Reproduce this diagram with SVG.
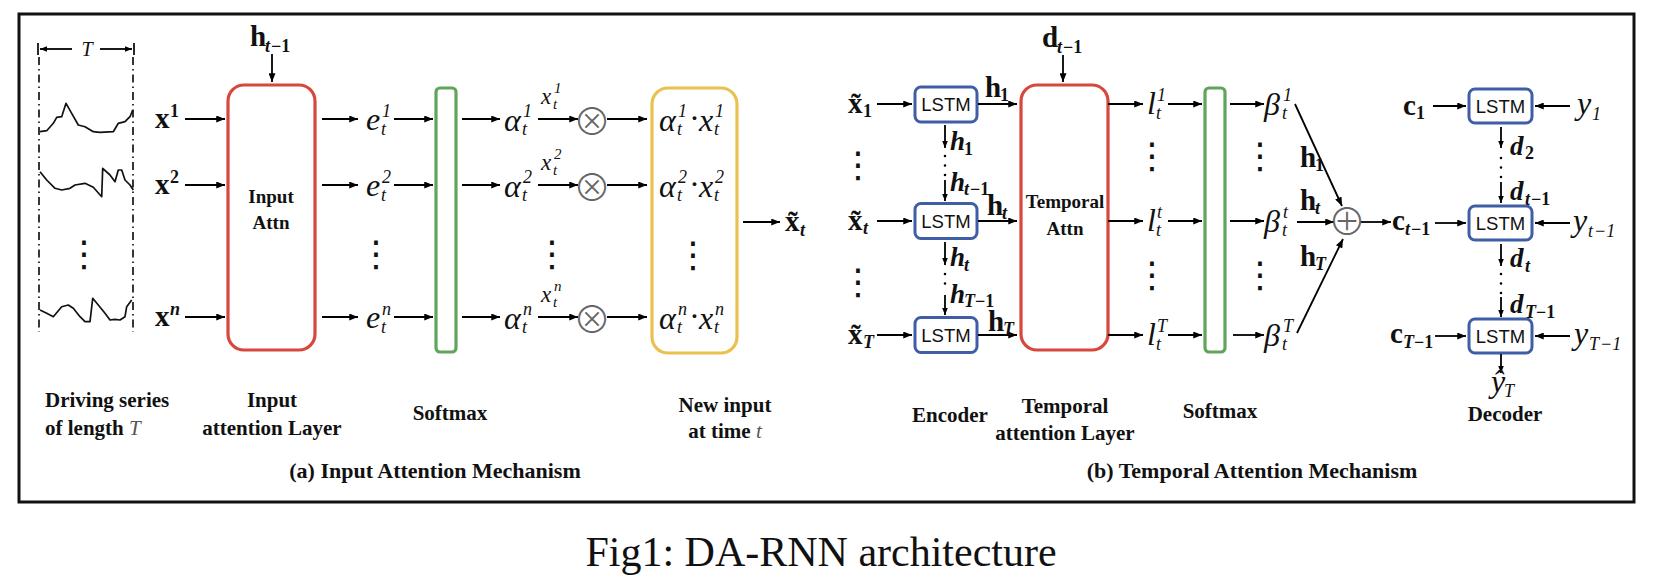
<svg xmlns="http://www.w3.org/2000/svg" width="1654" height="588" viewBox="0 0 1654 588">
<defs>
<marker id="ah" viewBox="0 0 10 8" markerUnits="userSpaceOnUse" markerWidth="9" markerHeight="7" refX="10" refY="4" orient="auto"><path d="M0,0 L10,4 L0,8 z" fill="#000"/></marker>
<marker id="ahs" viewBox="0 0 10 8" markerUnits="userSpaceOnUse" markerWidth="7" markerHeight="6" refX="10" refY="4" orient="auto"><path d="M0,0 L10,4 L0,8 z" fill="#000"/></marker>
</defs>
<style>
.ln{stroke:#000;stroke-width:1.8;fill:none}
.ar{marker-end:url(#ah)}
.as{marker-end:url(#ahs)}
.dt{stroke:#000;stroke-width:2.6;stroke-linecap:round;stroke-dasharray:0 9.5;fill:none}
.wave{stroke:#111;stroke-width:1.7;fill:none;stroke-linejoin:round}
.dd{stroke:#222;stroke-width:1.8;stroke-dasharray:8 4 1.5 4;fill:none}
.red{fill:none;stroke:#d8473b;stroke-width:3.2}
.grn{fill:none;stroke:#5fa65b;stroke-width:3.2}
.yel{fill:none;stroke:#e9c14f;stroke-width:3.2}
.blu{fill:#fff;stroke:#3f5ea6;stroke-width:3}
text{fill:#111}
.lbl{font-family:"Liberation Serif",serif;font-weight:bold;font-size:21px;text-anchor:middle}
.lbs{font-family:"Liberation Serif",serif;font-weight:bold;font-size:21px;text-anchor:start}
.in{font-family:"Liberation Serif",serif;font-weight:bold;font-size:19px;text-anchor:middle}
.cap{font-family:"Liberation Serif",serif;font-weight:bold;font-size:22px;text-anchor:middle}
.mi{font-family:"Liberation Serif",serif;font-style:italic;font-size:32px}
.ms{font-family:"Liberation Serif",serif;font-style:italic;font-size:23px}
.sc{font-family:"Liberation Serif",serif;font-style:italic;font-size:18px}
.sc2{font-family:"Liberation Serif",serif;font-style:italic;font-size:15px}
.bv{font-family:"Liberation Serif",serif;font-weight:bold;font-size:29px}
.bvi{font-family:"Liberation Serif",serif;font-weight:bold;font-style:italic;font-size:27px}
.bs{font-family:"Liberation Serif",serif;font-weight:bold;font-size:18px}
.bsi{font-family:"Liberation Serif",serif;font-weight:bold;font-style:italic;font-size:18px}
.op{font-family:"Noto Sans CJK JP","DejaVu Sans",sans-serif;font-weight:300;font-size:38px;fill:#666;text-anchor:middle}
.vd{font-family:"DejaVu Sans",sans-serif;font-size:36px;text-anchor:middle}
.lstm{font-family:"Liberation Sans",Arial,sans-serif;font-size:18.5px;text-anchor:middle}
.ttl{font-family:"Liberation Serif","Times New Roman",serif;font-size:42px;text-anchor:middle}
</style>
<rect width="1654" height="588" fill="#fff"/>
<g id="frame"><rect x="19" y="14" width="1615" height="488" fill="none" stroke="#111" stroke-width="3"/></g>

<g id="driving-series">
<line class="dd" x1="39" y1="57" x2="39" y2="332"/>
<line class="dd" x1="133" y1="57" x2="133" y2="332"/>
<line x1="38" y1="43" x2="38" y2="55" stroke="#111" stroke-width="1.8"/>
<line x1="134" y1="43" x2="134" y2="55" stroke="#111" stroke-width="1.8"/>
<polyline class="wave" points="40,131.7 46.7,130.7 53.3,123.3 56.7,117.3 61.7,116.7 66,103.3 71.7,113.3 78.3,125 85,126.7 93.3,131.7 100,132.3 113.3,131.7 118.3,123.3 125,121.7 130,116.7 132.7,110"/>
<polyline class="wave" points="40,171.7 46.7,180 55,188.3 61.7,190 70,188.3 75,185 85,183.3 93.3,187.3 101.7,196.7 102.7,168.3 110,175 115,181.7 118.3,170 121.7,170 125,180 130,185 133.3,190"/>
<polyline class="wave" points="40,310 46.7,313.3 53.3,316.7 61.7,306.7 68.3,305 73.3,308.3 80,316.7 85,321.7 90,321.7 92.7,298.3 98.3,305 105,313.3 110,320 115,319.3 120,320 125,316.7 126.7,306.7 131.7,300"/>
<text class="vd" x="84" y="266">⋮</text>
<text x="87" y="56" font-family="Liberation Serif,serif" font-style="italic" font-size="20" text-anchor="middle" fill="#555">T</text>
</g>

<g id="input-attn">
<rect class="red" x="228" y="85" width="87" height="265" rx="16"/>
<text class="in" x="271" y="203">Input</text>
<text class="in" x="271" y="229">Attn</text>
</g>
<g id="softmax-a"><rect class="grn" x="436" y="88" width="20" height="264" rx="4"/></g>
<g id="new-input"><rect class="yel" x="652" y="88" width="85" height="265" rx="16"/></g>

<g id="temporal-attn">
<rect class="red" x="1021" y="85" width="87" height="265" rx="16"/>
<text class="in" x="1065" y="208">Temporal</text>
<text class="in" x="1065" y="235">Attn</text>
</g>
<g id="softmax-b"><rect class="grn" x="1205" y="88" width="20" height="264" rx="4"/></g>

<g id="enc-lstm-1"><rect class="blu" x="915" y="87" width="62" height="35" rx="6"/><text class="lstm" x="946" y="111">LSTM</text></g>
<g id="enc-lstm-t"><rect class="blu" x="915" y="203.5" width="62" height="35" rx="6"/><text class="lstm" x="946" y="228">LSTM</text></g>
<g id="enc-lstm-T"><rect class="blu" x="915" y="317.5" width="62" height="35" rx="6"/><text class="lstm" x="946" y="342">LSTM</text></g>
<g id="dec-lstm-1"><rect class="blu" x="1469" y="89" width="63" height="34" rx="6"/><text class="lstm" x="1500.5" y="112.5">LSTM</text></g>
<g id="dec-lstm-t"><rect class="blu" x="1469" y="206" width="63" height="34" rx="6"/><text class="lstm" x="1500.5" y="229.5">LSTM</text></g>
<g id="dec-lstm-T"><rect class="blu" x="1469" y="319" width="63" height="34" rx="6"/><text class="lstm" x="1500.5" y="342.5">LSTM</text></g>

<g id="connectors">
<line class="ln as" x1="72" y1="49" x2="40" y2="49"/>
<line class="ln as" x1="100" y1="49" x2="132" y2="49"/>
<line class="ln ar" x1="272" y1="54" x2="272" y2="82"/>
<line class="ln ar" x1="185" y1="119" x2="225" y2="119"/>
<line class="ln ar" x1="185" y1="185" x2="225" y2="185"/>
<line class="ln ar" x1="185" y1="317" x2="225" y2="317"/>
<line class="ln ar" x1="322" y1="119" x2="358" y2="119"/>
<line class="ln ar" x1="322" y1="185" x2="358" y2="185"/>
<line class="ln ar" x1="322" y1="317" x2="358" y2="317"/>
<line class="ln ar" x1="394" y1="119" x2="433" y2="119"/>
<line class="ln ar" x1="394" y1="185" x2="433" y2="185"/>
<line class="ln ar" x1="394" y1="317" x2="433" y2="317"/>
<line class="ln ar" x1="462" y1="119" x2="500" y2="119"/>
<line class="ln ar" x1="462" y1="185" x2="500" y2="185"/>
<line class="ln ar" x1="462" y1="317" x2="500" y2="317"/>
<line class="ln ar" x1="538" y1="119" x2="578" y2="119"/>
<line class="ln ar" x1="538" y1="185" x2="578" y2="185"/>
<line class="ln ar" x1="538" y1="317" x2="578" y2="317"/>
<line class="ln ar" x1="607" y1="119" x2="647" y2="119"/>
<line class="ln ar" x1="607" y1="185" x2="647" y2="185"/>
<line class="ln ar" x1="607" y1="317" x2="647" y2="317"/>
<line class="ln ar" x1="743" y1="222" x2="780" y2="222"/>
<line class="ln ar" x1="877" y1="104" x2="912" y2="104"/>
<line class="ln ar" x1="877" y1="221" x2="912" y2="221"/>
<line class="ln ar" x1="877" y1="335" x2="912" y2="335"/>
<line class="ln ar" x1="978" y1="104" x2="1017" y2="104"/>
<line class="ln ar" x1="978" y1="221" x2="1017" y2="221"/>
<line class="ln ar" x1="978" y1="335" x2="1017" y2="335"/>
<line class="ln as" x1="945" y1="125" x2="945" y2="148"/>
<line class="dt" x1="945" y1="156" x2="945" y2="176"/>
<line class="ln as" x1="945" y1="180" x2="945" y2="201"/>
<line class="ln as" x1="945" y1="242" x2="945" y2="265"/>
<line class="dt" x1="945" y1="274" x2="945" y2="293"/>
<line class="ln as" x1="945" y1="295" x2="945" y2="315"/>
<line class="ln ar" x1="1063" y1="55" x2="1063" y2="82"/>
<line class="ln ar" x1="1108" y1="104" x2="1143" y2="104"/>
<line class="ln ar" x1="1108" y1="221" x2="1143" y2="221"/>
<line class="ln ar" x1="1108" y1="335" x2="1143" y2="335"/>
<line class="ln ar" x1="1168" y1="104" x2="1202" y2="104"/>
<line class="ln ar" x1="1168" y1="221" x2="1202" y2="221"/>
<line class="ln ar" x1="1168" y1="335" x2="1202" y2="335"/>
<line class="ln ar" x1="1230" y1="104" x2="1264" y2="104"/>
<line class="ln ar" x1="1230" y1="221" x2="1264" y2="221"/>
<line class="ln ar" x1="1233" y1="335" x2="1264" y2="335"/>
<line class="ln ar" x1="1295" y1="104" x2="1342" y2="206"/>
<line class="ln ar" x1="1297" y1="222" x2="1334" y2="222"/>
<line class="ln ar" x1="1297" y1="333" x2="1343" y2="239"/>
<line class="ln ar" x1="1360" y1="222" x2="1391" y2="222"/>
<line class="ln ar" x1="1433" y1="106" x2="1466" y2="106"/>
<line class="ln ar" x1="1435" y1="223" x2="1466" y2="223"/>
<line class="ln ar" x1="1435" y1="336" x2="1466" y2="336"/>
<line class="ln ar" x1="1570" y1="106" x2="1535" y2="106"/>
<line class="ln ar" x1="1570" y1="223" x2="1535" y2="223"/>
<line class="ln ar" x1="1570" y1="336" x2="1535" y2="336"/>
<line class="ln as" x1="1501" y1="127" x2="1501" y2="148"/>
<line class="dt" x1="1501" y1="158" x2="1501" y2="178"/>
<line class="ln as" x1="1501" y1="182" x2="1501" y2="203"/>
<line class="ln as" x1="1501" y1="244" x2="1501" y2="266"/>
<line class="dt" x1="1501" y1="274" x2="1501" y2="294"/>
<line class="ln as" x1="1501" y1="297" x2="1501" y2="317"/>
<line class="ln as" x1="1501" y1="354" x2="1501" y2="373"/>
</g>

<g id="labels-a">
<text class="bv" x="250" y="46">h</text><text class="bsi" x="265" y="52">t</text><text class="bs" x="271" y="52">−1</text>
<text class="bv" x="155" y="128">x</text><text class="bs" x="170" y="117">1</text>
<text class="bv" x="155" y="194">x</text><text class="bs" x="170" y="183">2</text>
<text class="bv" x="155" y="326">x</text><text class="bsi" x="170" y="315">n</text>

<text class="mi" x="366" y="130">e</text><text class="sc" x="381" y="135">t</text><text class="sc" x="382" y="117">1</text>
<text class="mi" x="366" y="196">e</text><text class="sc" x="381" y="201">t</text><text class="sc" x="382" y="183">2</text>
<text class="mi" x="366" y="328">e</text><text class="sc" x="381" y="333">t</text><text class="sc" x="382" y="315">n</text>
<text class="vd" x="376" y="266">⋮</text>

<text class="mi" x="504" y="131">α</text><text class="sc" x="522" y="135">t</text><text class="sc" x="523" y="117">1</text>
<text class="mi" x="504" y="197">α</text><text class="sc" x="522" y="201">t</text><text class="sc" x="523" y="183">2</text>
<text class="mi" x="504" y="329">α</text><text class="sc" x="522" y="333">t</text><text class="sc" x="523" y="315">n</text>
<text class="vd" x="552" y="266">⋮</text>

<text class="ms" x="541" y="104">x</text><text class="sc2" x="553" y="109">t</text><text class="sc2" x="554" y="93">1</text>
<text class="ms" x="541" y="170">x</text><text class="sc2" x="553" y="175">t</text><text class="sc2" x="554" y="159">2</text>
<text class="ms" x="541" y="302">x</text><text class="sc2" x="553" y="307">t</text><text class="sc2" x="554" y="291">n</text>

<text class="op" x="592" y="135">⊗</text>
<text class="op" x="592" y="201">⊗</text>
<text class="op" x="592" y="333">⊗</text>

<text class="mi" x="659" y="131">α</text><text class="sc" x="677" y="135">t</text><text class="sc" x="678" y="117">1</text><text class="mi" x="690" y="129" font-style="normal">·</text><text class="mi" x="699" y="131">x</text><text class="sc" x="714" y="135">t</text><text class="sc" x="715" y="117">1</text>
<text class="mi" x="659" y="197">α</text><text class="sc" x="677" y="201">t</text><text class="sc" x="678" y="183">2</text><text class="mi" x="690" y="195" font-style="normal">·</text><text class="mi" x="699" y="197">x</text><text class="sc" x="714" y="201">t</text><text class="sc" x="715" y="183">2</text>
<text class="mi" x="659" y="329">α</text><text class="sc" x="677" y="333">t</text><text class="sc" x="678" y="315">n</text><text class="mi" x="690" y="327" font-style="normal">·</text><text class="mi" x="699" y="329">x</text><text class="sc" x="714" y="333">t</text><text class="sc" x="715" y="315">n</text>
<text class="vd" x="693" y="267">⋮</text>

<text class="bv" x="785" y="231">x̃</text><text class="bsi" x="800" y="236">t</text>

<text class="lbs" x="45" y="407">Driving series</text>
<text class="lbs" x="45" y="435">of length <tspan font-weight="normal" font-style="italic" fill="#555">T</tspan></text>
<text class="lbl" x="272" y="407">Input</text>
<text class="lbl" x="272" y="435">attention Layer</text>
<text class="lbl" x="450" y="420">Softmax</text>
<text class="lbl" x="725" y="412">New input</text>
<text class="lbl" x="725" y="438">at time <tspan font-weight="normal" font-style="italic" fill="#555">t</tspan></text>
<text class="cap" x="435" y="478">(a) Input Attention Mechanism</text>
</g>

<g id="labels-b">
<text class="bv" x="848" y="113">x̃</text><text class="bs" x="863" y="117">1</text>
<text class="bv" x="848" y="230">x̃</text><text class="bsi" x="863" y="234">t</text>
<text class="bv" x="848" y="344">x̃</text><text class="bsi" x="863" y="348">T</text>
<text class="vd" x="858" y="177">⋮</text>
<text class="vd" x="858" y="294">⋮</text>

<text class="bv" x="985" y="97">h</text><text class="bs" x="1000" y="101">1</text>
<text class="bv" x="987" y="215">h</text><text class="bsi" x="1002" y="219">t</text>
<text class="bv" x="988" y="331">h</text><text class="bsi" x="1003" y="335">T</text>

<text class="bvi" x="950" y="150">h</text><text class="bs" x="964" y="155">1</text>
<text class="bvi" x="950" y="191">h</text><text class="bsi" x="964" y="195">t</text><text class="bs" x="970" y="195">−1</text>
<text class="bvi" x="950" y="266">h</text><text class="bsi" x="964" y="271">t</text>
<text class="bvi" x="950" y="303">h</text><text class="bsi" x="964" y="307">T</text><text class="bs" x="975" y="307">−1</text>

<text class="bv" x="1042" y="47">d</text><text class="bsi" x="1057" y="53">t</text><text class="bs" x="1063" y="53">−1</text>

<text class="mi" x="1147" y="114">l</text><text class="sc" x="1156" y="119">t</text><text class="sc" x="1157" y="101">1</text>
<text class="mi" x="1147" y="231">l</text><text class="sc" x="1156" y="236">t</text><text class="sc" x="1157" y="218">t</text>
<text class="mi" x="1147" y="345">l</text><text class="sc" x="1156" y="350">t</text><text class="sc" x="1157" y="332">T</text>
<text class="vd" x="1152" y="168">⋮</text>
<text class="vd" x="1152" y="287">⋮</text>

<text class="mi" x="1264" y="115">β</text><text class="sc" x="1282" y="119">t</text><text class="sc" x="1283" y="101">1</text>
<text class="mi" x="1264" y="232">β</text><text class="sc" x="1282" y="236">t</text><text class="sc" x="1283" y="218">t</text>
<text class="mi" x="1264" y="346">β</text><text class="sc" x="1282" y="350">t</text><text class="sc" x="1283" y="332">T</text>
<text class="vd" x="1260" y="168">⋮</text>
<text class="vd" x="1260" y="287">⋮</text>

<text class="bv" x="1300" y="167">h</text><text class="bs" x="1315" y="171">1</text>
<text class="bv" x="1300" y="210">h</text><text class="bsi" x="1315" y="214">t</text>
<text class="bv" x="1300" y="266">h</text><text class="bsi" x="1315" y="270">T</text>

<text class="op" x="1347" y="235">⊕</text>

<text class="bv" x="1392" y="230">c</text><text class="bsi" x="1405" y="235">t</text><text class="bs" x="1411" y="235">−1</text>
<text class="bv" x="1403" y="115">c</text><text class="bs" x="1416" y="119">1</text>
<text class="bv" x="1390" y="343">c</text><text class="bsi" x="1403" y="348">T</text><text class="bs" x="1414" y="348">−1</text>

<text class="mi" x="1577" y="114">y</text><text class="sc" x="1592" y="120">1</text>
<text class="mi" x="1573" y="231">y</text><text class="sc" x="1588" y="237">t</text><text class="sc" x="1594" y="237" font-style="normal">−1</text>
<text class="mi" x="1574" y="344">y</text><text class="sc" x="1589" y="350">T</text><text class="sc" x="1600" y="350" font-style="normal">−1</text>

<text class="bvi" x="1510" y="155">d</text><text class="bs" x="1525" y="159">2</text>
<text class="bvi" x="1510" y="200">d</text><text class="bsi" x="1525" y="205">t</text><text class="bs" x="1531" y="205">−1</text>
<text class="bvi" x="1510" y="267">d</text><text class="bsi" x="1525" y="272">t</text>
<text class="bvi" x="1510" y="313">d</text><text class="bsi" x="1525" y="318">T</text><text class="bs" x="1536" y="318">−1</text>

<text class="mi" x="1491" y="392" font-size="28">ŷ</text><text class="sc" x="1504" y="397" font-size="16">T</text>

<text class="lbl" x="950" y="422">Encoder</text>
<text class="lbl" x="1065" y="413">Temporal</text>
<text class="lbl" x="1065" y="440">attention Layer</text>
<text class="lbl" x="1220" y="418">Softmax</text>
<text class="lbl" x="1505" y="421">Decoder</text>
<text class="cap" x="1252" y="478">(b) Temporal Attention Mechanism</text>
</g>

<g id="title"><text class="ttl" x="821" y="566">Fig1: DA-RNN architecture</text></g>
</svg>
